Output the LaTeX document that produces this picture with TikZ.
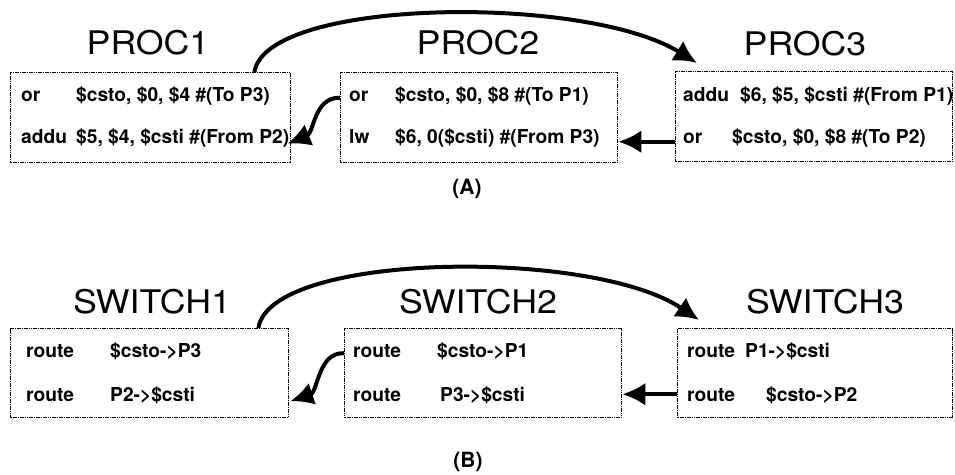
\documentclass[tikz,border=0pt]{standalone}
\usepackage{fontspec}
\setmainfont{TeX Gyre Heros}
\usetikzlibrary{arrows.meta,calc}
\begin{document}
\begin{tikzpicture}[x=1pt,y=-1pt,
  codebox/.style={draw=black, line width=1.4pt, dash pattern=on 1.6pt off 0.7pt,
    rectangle, inner sep=0pt, anchor=north west},
  title/.style={anchor=base, inner sep=0pt, font=\fontsize{32.5}{38}\selectfont},
  code/.style={anchor=base west, inner sep=0pt, font=\bfseries\fontsize{19.2}{22}\selectfont},
  caption/.style={anchor=base, inner sep=0pt, font=\bfseries\fontsize{21}{24}\selectfont},
  flow/.style={line width=4pt, -{Latex[length=23pt,width=23pt]}}
]
\useasboundingbox (0,0) rectangle (955,474);

% ---------- (A) processor code ----------
\node[codebox, minimum width=280pt, minimum height=90pt] (p1) at (10,72) {};
\node[codebox, minimum width=277pt, minimum height=90pt] (p2) at (340,72) {};
\node[codebox, minimum width=277pt, minimum height=90pt] (p3) at (675,71) {};

\node[title] (t1) at (148,54) {\scalebox{1.1}[1]{PROC1}};
\node[title] (t2) at (478,54) {\scalebox{1.1}[1]{PROC2}};
\node[title] (t3) at (805,55) {\scalebox{1.1}[1]{PROC3}};

\node[code] (p1a) at (21,101) {or};
\node[code] (p1b) at (76,101) {\$csto, \$0, \$4 \#(To P3)};
\node[code] (p1c) at (21,143) {addu};
\node[code] (p1d) at (76,143) {\$5, \$4, \$csti \#(From P2)};

\node[code] (p2a) at (349,101) {or};
\node[code] (p2b) at (395,101) {\$csto, \$0, \$8 \#(To P1)};
\node[code] (p2c) at (349,143) {lw};
\node[code] (p2d) at (395,143) {\$6, 0(\$csti) \#(From P3)};

\node[code] (p3a) at (683,101) {addu};
\node[code] (p3b) at (740,101) {\$6, \$5, \$csti \#(From P1)};
\node[code] (p3c) at (683,143) {or};
\node[code] (p3d) at (732,143) {\$csto, \$0, \$8 \#(To P2)};

\node[caption] (capA) at (467,194) {(A)};

\coordinate (p1out) at ($(p1.north east)+(-37,0)$);
\coordinate (p3in)  at ($(p3.north west)+(22,-8)$);
\draw[flow] (p1out) .. controls (266,-2) and (585,-6) .. (p3in);
\coordinate (p2out) at ($(p2.west)+(0,-20)$);
\coordinate (p1in)  at ($(p1.east)+(-4,26)$);
\draw[flow] (p2out) .. controls (314,97) and (314,133) .. (p1in);
\draw[flow] ($(p3.west)+(0,25)$) -- ($(p2.east)+(0,24)$);

% ---------- (B) switch code ----------
\node[codebox, minimum width=278pt, minimum height=89pt] (s1) at (10,328) {};
\node[codebox, minimum width=277pt, minimum height=89pt] (s2) at (344,328) {};
\node[codebox, minimum width=275pt, minimum height=89pt] (s3) at (677,328) {};

\node[title] (u1) at (152,313) {\scalebox{1.1}[1]{SWITCH1}};
\node[title] (u2) at (478,313) {\scalebox{1.1}[1]{SWITCH2}};
\node[title] (u3) at (825,313) {\scalebox{1.1}[1]{SWITCH3}};

\node[code] (s1a) at (26,357) {route};
\node[code] (s1b) at (110,357) {\$csto->P3};
\node[code] (s1c) at (26,401) {route};
\node[code] (s1d) at (110,401) {P2->\$csti};

\node[code] (s2a) at (353,357) {route};
\node[code] (s2b) at (437,357) {\$csto->P1};
\node[code] (s2c) at (353,401) {route};
\node[code] (s2d) at (440,401) {P3->\$csti};

\node[code] (s3a) at (687,357) {route};
\node[code] (s3b) at (745,357) {P1->\$csti};
\node[code] (s3c) at (687,401) {route};
\node[code] (s3d) at (766,401) {\$csto->P2};

\node[caption] (capB) at (468,467) {(B)};

\coordinate (s1out) at ($(s1.north east)+(-31,0)$);
\coordinate (s3in)  at ($(s3.north west)+(22,-8)$);
\draw[flow] (s1out) .. controls (270,252) and (592,248) .. (s3in);
\coordinate (s2out) at ($(s2.west)+(0,-20)$);
\coordinate (s1in)  at ($(s1.east)+(1,28)$);
\draw[flow] (s2out) .. controls (318,352) and (318,392) .. (s1in);
\draw[flow] ($(s3.west)+(0,21)$) -- ($(s2.east)+(0,21)$);
\end{tikzpicture}
\end{document}
